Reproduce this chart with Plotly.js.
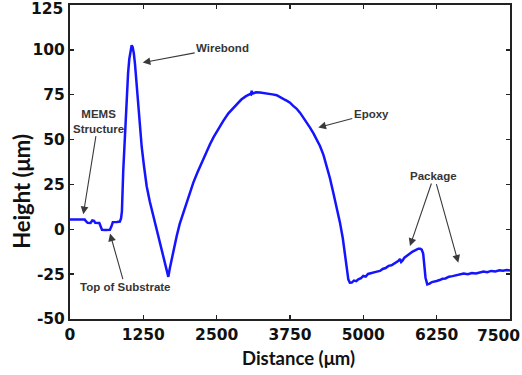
<!DOCTYPE html>
<html>
<head>
<meta charset="utf-8">
<script src="https://cdn.plot.ly/plotly-3.0.1.min.js"></script>
<style>html,body{margin:0;padding:0;background:#fff;}#chart{width:522px;height:375px;}</style>
</head>
<body>
<div id="chart"></div>
<script>
// Profile data (Distance in µm, Height in µm)
const distance = [
  0,150,250,280,300,350,380,410,430,500,520,545,600,680,705,730,800,850,870,885,
  908,940,966,990,1011,1035,1051,1068,1088,1108,1128,1147,1180,1222,1262,1307,1360,1420,1480,1534,
  1600,1650,1676,1700,1750,1819,1870,1931,2000,2050,2102,2170,2245,2310,2386,2450,2530,2613,2700,2770,
  2841,2920,3000,3068,3085,3097,3110,3170,3239,3300,3380,3450,3523,3580,3650,3700,3750,3800,3860,3920,
  3980,4040,4091,4150,4210,4261,4320,4375,4430,4488,4550,4602,4650,4687,4720,4744,4770,4802,4840,4880,
  4914,4960,4999,5040,5080,5130,5180,5230,5284,5330,5380,5430,5480,5530,5569,5600,5625,5645,5670,5700,
  5750,5795,5840,5890,5937,5970,5995,6020,6040,6060,6090,6130,6170,6210,6250,6300,6350,6400,6460,6520,
  6591,6650,6710,6780,6850,6920,6989,7050,7110,7180,7250,7320,7380,7443,7500
];
const height = [
  5.5,5.6,5.4,4.2,3.6,3.5,4.9,4.7,3.6,3.5,1.5,-0.3,-0.4,-0.3,1.5,4.0,4.1,4.3,6,10,
  33,57,74,87,95,101,102.6,101.5,98,92,83,74,61,46,35,24,15.5,7.4,0,-7.4,
  -16,-23,-26.5,-22,-14,-3.7,3,9.3,16.5,21.5,26,31.5,37,42.5,47.4,51.5,56,60.4,64.6,67.2,
  69.7,72.3,74.2,75.3,75.1,77.2,75.6,76.3,76.2,76,75.6,75.2,74.7,73.5,72.4,71.6,70.6,68.9,67.3,65,
  62.2,59.6,56.7,53.4,50,46.4,41.5,35.3,28.6,20.4,12,3.7,-5,-13,-21,-27.9,-29.8,-29.7,-28.6,-28.9,
  -27.9,-27.2,-26,-26.4,-24.9,-24.6,-24.1,-23.6,-23.2,-22.1,-21.6,-20.4,-20.1,-19.2,-18.6,-17.6,-16.5,-18.2,-17.4,-15.8,
  -14.6,-13.4,-12.4,-11.6,-10.8,-10.9,-11.3,-13.5,-20,-27,-30.7,-30.3,-29.4,-29.2,-28.8,-28.3,-27.6,-27.4,-26.4,-26.1,
  -25.6,-25.4,-24.7,-25.0,-24.4,-24.6,-24.2,-23.6,-23.9,-23.2,-23.5,-22.9,-23.1,-22.7,-23.0
];
const xTicks = [0,1250,2500,3750,5000,6250,7500];
const yTicks = [-50,-25,0,25,50,75,100,125];
const xTitle = 'Distance (μm)';
const yTitle = 'Height (μm)';

// Annotation labels and the points they point at
const labelTexts = ["Wirebond","Epoxy","Package","Package","MEMS<br>Structure","Top of Substrate"];
const labelX = [1239,4232,5795,6619,227,682];
const labelY = [92.9,56.7,-9.3,-18.6,8.4,-2.4];

const annOffsets = [[80,-15],[53,-14],[24,-70],[-24,-86],[15,-93],[15,53]];
const annFont = {family:'"Liberation Sans", Arial, sans-serif', size:11.5, color:'#363636', weight:'bold'};
const annotations = labelTexts.map((t,i)=>({
  x: labelX[i], y: labelY[i], xref:'x', yref:'y',
  text: '<b>'+t+'</b>',
  showarrow: true, arrowhead: 2, arrowsize: 1.4, arrowwidth: 1.1, arrowcolor: '#3a3a3a',
  ax: annOffsets[i][0], ay: annOffsets[i][1],
  font: Object.assign({}, annFont, i===3 ? {color:'rgba(0,0,0,0)'} : {}),
  standoff: 0
}));

const tickFont = {family:'"DejaVu Sans", Verdana, sans-serif', size:15.5, color:'#111', weight:'bold'};
const titleFont = {family:'Lato, "Open Sans", sans-serif', size:18.5, color:'#111'};

// End tick labels that the reference nudges inward to fit the page
const lastX = xTicks[xTicks.length-1];
const lastY = yTicks[yTicks.length-1];
annotations.push({
  x:lastX, xref:'x', y:0, yref:'paper', yanchor:'top', xanchor:'right',
  xshift:12, yshift:-6, showarrow:false, text:'<b>'+lastX+'</b>', font:tickFont
});
annotations.push({
  x:0, xref:'paper', y:lastY, yref:'y', xanchor:'right', yanchor:'middle',
  xshift:-5, yshift:-4, showarrow:false, text:'<b>'+lastY+'</b>', font:tickFont
});
// Axis titles
annotations.push({
  x:0.52, xref:'paper', y:0, yref:'paper', yanchor:'middle', xanchor:'center',
  yshift:-39, showarrow:false, text:'<b>'+xTitle+'</b>', font:titleFont
});
annotations.push({
  x:0, xref:'paper', y:0.405, yref:'paper', xanchor:'center', yanchor:'middle',
  xshift:-48, showarrow:false, textangle:-90, text:'<b>'+yTitle+'</b>',
  font:Object.assign({}, titleFont, {size:22})
});

const trace = {
  x: distance, y: height, type:'scatter', mode:'lines',
  line:{color:'rgb(20,20,255)', width:2.5}, hoverinfo:'skip'
};

const layout = {
  width:522, height:375,
  margin:{l:70, r:12, t:5, b:56},
  paper_bgcolor:'#fff', plot_bgcolor:'#fff',
  showlegend:false,
  xaxis:{
    range:[0,7500], tickvals:xTicks, ticktext:xTicks.map(v=> v===lastX ? '' : String(v)),
    ticks:'inside', ticklen:4, tickwidth:1.5, tickcolor:'#222',
    showline:true, linecolor:'#222', linewidth:2, mirror:'ticks',
    showgrid:false, zeroline:false, tickfont:tickFont
  },
  yaxis:{
    range:[-50,125], tickvals:yTicks, ticktext:yTicks.map(v=> v===lastY ? '' : String(v)),
    ticks:'inside', ticklen:4, tickwidth:1.5, tickcolor:'#222',
    showline:true, linecolor:'#222', linewidth:2, mirror:'ticks',
    showgrid:false, zeroline:false, tickfont:tickFont
  },
  annotations: annotations
};

Plotly.newPlot('chart', [trace], layout, {displayModeBar:false, staticPlot:true});
</script>
</body>
</html>
